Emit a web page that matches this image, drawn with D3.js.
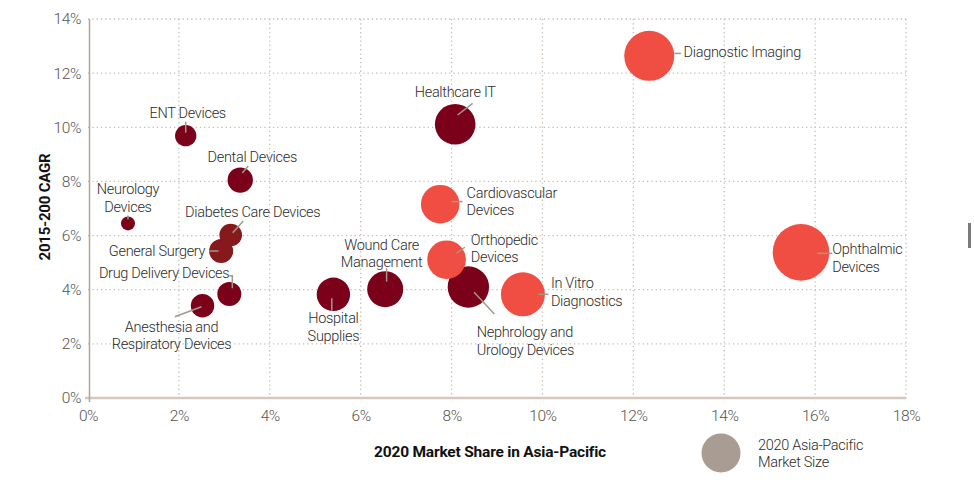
<!DOCTYPE html>
<html>
<head>
<meta charset="utf-8">
<script src="https://cdn.jsdelivr.net/npm/d3@7"></script>
<style>
  html, body { margin: 0; padding: 0; background: #fff; }
  svg { display: block; }
</style>
</head>
<body>
<svg id="chart" width="974" height="485"></svg>
<script>
// ---------- DATA ----------
const segments = [
  "ENT Devices", "Dental Devices", "Neurology Devices", "Diabetes Care Devices",
  "General Surgery", "Drug Delivery Devices", "Anesthesia and Respiratory Devices",
  "Healthcare IT", "Cardiovascular Devices", "Orthopedic Devices",
  "Wound Care Management", "Hospital Supplies", "Nephrology and Urology Devices",
  "In Vitro Diagnostics", "Diagnostic Imaging", "Ophthalmic Devices"
];
// 2020 market share in Asia-Pacific (%)
const marketShare = [2.15, 3.35, 0.88, 3.14, 2.93, 3.11, 2.52, 8.08, 7.75, 7.89, 6.54, 5.40, 8.37, 9.57, 12.35, 15.69];
// 2015-2020 CAGR (%)
const cagr = [9.69, 8.05, 6.45, 6.02, 5.43, 3.84, 3.41, 10.11, 7.16, 5.11, 4.02, 3.83, 4.10, 3.83, 12.64, 5.38];
// 2020 Asia-Pacific market size (relative units, bubble area)
const marketSize = [1.14, 1.61, 0.49, 1.28, 1.44, 1.44, 1.37, 4.12, 3.72, 3.72, 3.24, 2.79, 4.28, 4.84, 6.25, 8.0];
// colour group
const group = ["dark", "dark", "dark", "mid", "mid", "dark", "dark", "dark", "bright", "bright",
               "dark", "dark", "dark", "bright", "bright", "bright"];
// label lines
const labelLines = [
  ["ENT Devices"], ["Dental Devices"], ["Neurology", "Devices"], ["Diabetes Care Devices"],
  ["General Surgery"], ["Drug Delivery Devices"], ["Anesthesia and", "Respiratory Devices"],
  ["Healthcare IT"], ["Cardiovascular", "Devices"], ["Orthopedic", "Devices"],
  ["Wound Care", "Management"], ["Hospital", "Supplies"], ["Nephrology and", "Urology Devices"],
  ["In Vitro", "Diagnostics"], ["Diagnostic Imaging"], ["Ophthalmic", "Devices"]
];
const xTicks = [0, 2, 4, 6, 8, 10, 12, 14, 16, 18];
const yTicks = [0, 2, 4, 6, 8, 10, 12, 14];
const xTitle = "2020 Market Share in Asia-Pacific";
const yTitle = "2015-200 CAGR";
const legendLines = ["2020 Asia-Pacific", "Market Size"];

// ---------- LAYOUT (annotation placement, pixel offsets from bubble centre) ----------
const labelLayout = [
  { anchor: "middle", dx: 2,    dy: -18,   leader: [[0, -14], [0, -3]] },
  { anchor: "middle", dx: 12,   dy: -18.5, leader: [[8, -14], [2, -7]] },
  { anchor: "middle", dx: 0,    dy: -29,   leader: [[0, -8], [0, -4]] },
  { anchor: "middle", dx: 22,   dy: -18,   leader: [[12.6, -14], [2, -2.3]] },
  { anchor: "end",    dx: -16,  dy: 4.5,   leader: [[-11.7, 0], [-2.7, 0]] },
  { anchor: "end",    dx: 0,    dy: -16,   leader: [[0, -18.3], [3, -18.3], [3, -5.7]] },
  { anchor: "middle", dx: -31,  dy: 26,    leader: [[-27.7, 11], [-1, 1]] },
  { anchor: "middle", dx: 0,    dy: -27.6, leader: [[17.4, -21], [2.4, -9.3]] },
  { anchor: "start",  dx: 26.4, dy: -6.3,  leader: [[11.4, -2.6], [22.4, -2.6]] },
  { anchor: "start",  dx: 24.3, dy: -15,   leader: [[18.3, -12.4], [10, -6.4]] },
  { anchor: "middle", dx: -3.6, dy: -39.3, leader: [[1.4, -21], [1.4, -7.6]] },
  { anchor: "middle", dx: 0,    dy: 29,    leader: [[-1.6, 4], [-1.6, 16.4]] },
  { anchor: "start",  dx: 8.4,  dy: 50.3,  leader: [[5.7, 5.3], [26, 27]] },
  { anchor: "start",  dx: 28,   dy: -6,    leader: [[15.6, 0], [25.6, 0]] },
  { anchor: "start",  dx: 34.3, dy: 1.3,   leader: [[25, -2.4], [31.7, -2.4]] },
  { anchor: "start",  dx: 31.3, dy: 2,     leader: [[16.3, 1], [31.3, 1]] }
];

const colors = { dark: "#7b0019", mid: "#86191c", bright: "#f04e42" };
const lineH = 17.3;
const labelFont = "Roboto, 'Liberation Sans', sans-serif";

// ---------- CHART ----------
const svg = d3.select("#chart");
const x = d3.scaleLinear().domain([0, 18]).range([88, 906]);
const y = d3.scaleLinear().domain([0, 14]).range([398, 19]);
const r = d3.scaleSqrt().domain([0, 1]).range([0, 10]);

const gridColor = "#c9bcb3";

// grid - vertical
svg.append("g").selectAll("line").data(xTicks.filter(d => d > 0)).join("line")
  .attr("x1", d => x(d)).attr("x2", d => x(d))
  .attr("y1", y(14)).attr("y2", y(0) + 4)
  .attr("stroke", gridColor).attr("stroke-width", 1.3).attr("stroke-dasharray", "1.3 3");
// grid - horizontal
svg.append("g").selectAll("line").data(yTicks.filter(d => d > 0)).join("line")
  .attr("x1", x(0)).attr("x2", x(18))
  .attr("y1", d => y(d)).attr("y2", d => y(d))
  .attr("stroke", gridColor).attr("stroke-width", 1.3).attr("stroke-dasharray", "1.3 3");

// axes
const xAxis = d3.axisBottom(x).tickValues(xTicks).tickFormat(d => d + "%").tickSize(0).tickPadding(12);
const gx = svg.append("g").attr("transform", `translate(0,${y(0)})`).call(xAxis);
gx.select(".domain").remove();
gx.selectAll("text").attr("font-family", labelFont).attr("font-weight", 300)
  .attr("font-size", 15.5).attr("fill", "#555").attr("letter-spacing", "-0.4");

const yAxis = d3.axisLeft(y).tickValues(yTicks).tickFormat(d => d + "%").tickSize(0).tickPadding(7);
const gy = svg.append("g").attr("transform", `translate(${x(0)},0)`).call(yAxis);
gy.select(".domain").remove();
gy.selectAll("text").attr("font-family", labelFont).attr("font-weight", 300)
  .attr("font-size", 15.5).attr("fill", "#555").attr("letter-spacing", "-0.4");

// axis lines
svg.append("line").attr("x1", x(0) - 3).attr("x2", x(18)).attr("y1", y(0)).attr("y2", y(0))
  .attr("stroke", "#d2c8c0").attr("stroke-width", 2.5);
svg.append("line").attr("x1", x(0) + 1.5).attr("x2", x(0) + 1.5).attr("y1", y(14)).attr("y2", y(0) + 4)
  .attr("stroke", "#b3a398").attr("stroke-width", 1.5);

// bubbles
const data = segments.map((s, i) => ({
  name: s, xv: marketShare[i], yv: cagr[i], size: marketSize[i], group: group[i],
  lines: labelLines[i], layout: labelLayout[i]
}));
const order = { dark: 0, mid: 0, bright: 1 };
const drawOrder = data.slice().sort((a, b) => order[a.group] - order[b.group]);

svg.append("g").selectAll("circle").data(drawOrder).join("circle")
  .attr("cx", d => x(d.xv)).attr("cy", d => y(d.yv)).attr("r", d => r(d.size))
  .attr("fill", d => colors[d.group]);

// leader lines
const lineGen = d3.line();
svg.append("g").selectAll("path").data(data).join("path")
  .attr("d", d => lineGen(d.layout.leader.map(p => [x(d.xv) + p[0], y(d.yv) + p[1]])))
  .attr("fill", "none").attr("stroke", "#a3978f").attr("stroke-width", 1.5);

// labels
const lab = svg.append("g").selectAll("text").data(data).join("text")
  .attr("x", d => x(d.xv) + d.layout.dx)
  .attr("y", d => y(d.yv) + d.layout.dy)
  .attr("text-anchor", d => d.layout.anchor)
  .attr("font-family", labelFont).attr("font-weight", 300).attr("font-size", 14.5)
  .attr("letter-spacing", "-0.3").attr("fill", "#2b2b2b");
lab.selectAll("tspan").data(d => d.lines.map(t => ({ t, d }))).join("tspan")
  .attr("x", o => x(o.d.xv) + o.d.layout.dx)
  .attr("dy", (o, i) => i === 0 ? 0 : lineH)
  .text(o => o.t);

// axis titles
svg.append("text").attr("x", 490).attr("y", 457).attr("text-anchor", "middle")
  .attr("font-family", labelFont).attr("font-weight", 700).attr("font-size", 15.5)
  .attr("letter-spacing", "-0.2").attr("fill", "#111").text(xTitle);
svg.append("text").attr("transform", "translate(50,207) rotate(-90)").attr("text-anchor", "middle")
  .attr("font-family", labelFont).attr("font-weight", 700).attr("font-size", 15)
  .attr("letter-spacing", "-0.2").attr("fill", "#111").text(yTitle);

// legend
svg.append("circle").attr("cx", 721).attr("cy", 453).attr("r", 19.5).attr("fill", "#a89c93");
svg.append("text").attr("font-family", labelFont).attr("font-weight", 300).attr("font-size", 14.5)
  .attr("letter-spacing", "-0.3").attr("fill", "#2b2b2b")
  .selectAll("tspan").data(legendLines).join("tspan")
  .attr("x", 758).attr("y", (d, i) => 449.5 + i * 17).text(d => d);

// small grey bar at right edge
svg.append("rect").attr("x", 968).attr("y", 223).attr("width", 3).attr("height", 25).attr("fill", "#7a7a7a");
</script>
</body>
</html>
